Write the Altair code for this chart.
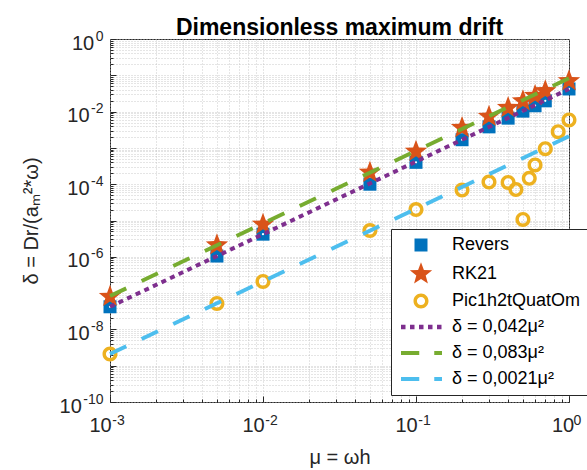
import math
import altair as alt
import pandas as pd

# ---------------- data ----------------
mu_rev = [0.001, 0.005, 0.01, 0.05, 0.1, 0.2, 0.3, 0.4, 0.5, 0.6, 0.7, 1.0]
revers = [4.2e-8, 1.05e-6, 4.2e-6, 1.0e-4, 4.0e-4, 1.68e-3, 3.8e-3, 6.6e-3,
          1.03e-2, 1.45e-2, 1.98e-2, 4.2e-2]
mu_rk = [0.001, 0.005, 0.01, 0.05, 0.1, 0.2, 0.3, 0.4, 0.5, 0.6, 0.7, 1.0]
rk21 = [8.0e-8, 2.1e-6, 7.8e-6, 2.1e-4, 8.0e-4, 3.6e-3, 7.3e-3, 1.28e-2,
        1.95e-2, 2.75e-2, 3.7e-2, 7.0e-2]
mu_pic = [0.001, 0.005, 0.01, 0.05, 0.1, 0.2, 0.3, 0.4, 0.45, 0.5, 0.55,
          0.6, 0.7, 0.85, 1.0]
pic = [2.1e-9, 5.2e-8, 2.1e-7, 5.3e-6, 2.0e-5, 6.9e-5, 1.15e-4, 1.12e-4,
       7.1e-5, 1.07e-5, 1.45e-4, 3.4e-4, 9.5e-4, 2.8e-3, 5.9e-3]

fit_coef = [0.042, 0.083, 0.0021]
fit_labels = ["δ = 0,042μ²", "δ = 0,083μ²", "δ = 0,0021μ²"]
fit_mu = [0.001, 1.0]

series = ["Revers", "RK21", "Pic1h2tQuatOm"] + fit_labels

x_label_vals = [0.001, 0.01, 0.1, 1.0]
x_label_exp = ["-3", "-2", "-1", "0"]
y_label_vals = [1.0, 1e-2, 1e-4, 1e-6, 1e-8, 1e-10]
y_label_exp = ["0", "-2", "-4", "-6", "-8", "-10"]

# ---------------- tables ----------------
pts = pd.concat([
    pd.DataFrame({"mu": mu_rev, "d": revers, "series": "Revers"}),
    pd.DataFrame({"mu": mu_rk, "d": rk21, "series": "RK21"}),
    pd.DataFrame({"mu": mu_pic, "d": pic, "series": "Pic1h2tQuatOm"}),
], ignore_index=True)
rev_df = pd.DataFrame({"mu": mu_rev, "d": revers})

fit_rows = []
for c, lab in zip(fit_coef, fit_labels):
    for m in fit_mu:
        fit_rows.append({"mu": m, "d": c * m * m, "series": lab})
fit_df = pd.DataFrame(fit_rows)

x_grid = [k * 10.0 ** n for n in range(-3, 0) for k in range(1, 10)] + [1.0]
y_grid = [k * 10.0 ** n for n in range(-10, 0) for k in range(1, 10)] + [1.0]


def is_val(v):
    return f"abs(datum.value/{v!r} - 1) < 1e-6"


def label_expr(vals, txts):
    s = ""
    for v, t in zip(vals, txts):
        s += f"{is_val(v)} ? '{t}' : "
    return s + "''"


DECADE = "abs(log(datum.value)/LN10 - round(log(datum.value)/LN10)) < 1e-6"
tick_size = {"condition": {"test": DECADE, "value": 6}, "value": 3}

# ---------------- styles ----------------
W, H = 459, 363
FONT = "Liberation Sans"
INK = "#262626"

# marker outlines as filled paths (unit: 1 = 5 px at size 100)
R = 2.35
star_pts = []
for i in range(10):
    a = -math.pi / 2 + i * math.pi / 5
    r = R if i % 2 == 0 else R * 0.42
    star_pts.append(f"{r * math.cos(a):.3f},{r * math.sin(a):.3f}")
star_path = "M" + "L".join(star_pts) + "Z"
square_path = "M-1.3,-1.3H1.3V1.3H-1.3Z"
ro, ri = 1.5, 0.82
ring_path = (f"M{ro},0A{ro},{ro} 0 1,1 {-ro},0A{ro},{ro} 0 1,1 {ro},0Z"
             f"M{ri},0A{ri},{ri} 0 1,0 {-ri},0A{ri},{ri} 0 1,0 {ri},0Z")
dot_path = "".join(
    f"M{x0:.2f},-0.45H{x0 + 0.9:.2f}V0.45H{x0:.2f}Z"
    for x0 in [-4.0, -2.2, -0.4, 1.4, 3.2]
)
dash_path = "M-4,-0.4H-0.35V0.4H-4ZM2.65,-0.4H4.2V0.4H2.65Z"

shape_range = [square_path, star_path, ring_path, dot_path, dash_path, dash_path]
fill_range = ["#0072BD", "#D95319", "#EDB120", "#7E2F8E", "#77AC30", "#4DBEEE"]

leg = alt.Legend(
    title=None, orient="none", legendX=281, legendY=190,
    fillColor="white", strokeColor=INK, padding=7,
    symbolSize=100, symbolStrokeWidth=0, symbolOffset=14, labelOffset=22,
    labelFont=FONT, labelFontSize=18, labelColor="black", rowPadding=8,
    labelLimit=300,
)

xs = alt.Scale(type="log", domain=[0.001, 1.0], nice=False)
ys = alt.Scale(type="log", domain=[1e-10, 1.0], nice=False)

x_axis = alt.Axis(
    values=x_grid, labelExpr=label_expr(x_label_vals, ["10"] * 4),
    title="μ = ωh", ticks=False, domain=False, labelPadding=13, labelFontSize=20,
    labelOffset={"condition": {"test": is_val(1.0), "value": -6.5}, "value": -10},
    titlePadding=12, grid=True, labelFlush=False, labelOverlap=False, labelBound=False,
)
y_axis = alt.Axis(
    values=y_grid, labelExpr=label_expr(y_label_vals, ["10"] * 6),
    title="δ = Dr/(aₘ²*ω)", ticks=False, domain=False, labelFontSize=20, labelOffset=4,
    labelPadding={"condition": [{"test": is_val(1.0), "value": 16.3},
                                {"test": is_val(1e-10), "value": 28.7}],
                  "value": 20.9},
    titlePadding=18, grid=True, labelFlush=False, labelOverlap=False, labelBound=False,
)

points = alt.Chart(pts).mark_point(size=100, filled=True, strokeWidth=0, opacity=1).encode(
    x=alt.X("mu:Q", scale=xs, axis=x_axis),
    y=alt.Y("d:Q", scale=ys, axis=y_axis),
    shape=alt.Shape("series:N", scale=alt.Scale(domain=series, range=shape_range), legend=leg),
    fill=alt.Fill("series:N", scale=alt.Scale(domain=series, range=fill_range), legend=leg),
)

dots = alt.Chart(rev_df).mark_point(shape="circle", filled=True, size=5, color="white",
                                     strokeWidth=0, opacity=1).encode(x="mu:Q", y="d:Q")

lines = alt.Chart(fit_df).mark_line(strokeWidth=4, strokeCap="butt").encode(
    x="mu:Q", y="d:Q",
    color=alt.Color("series:N", scale=alt.Scale(domain=fit_labels,
                                                range=["#7E2F8E", "#77AC30", "#4DBEEE"]), legend=None),
    strokeDash=alt.StrokeDash("series:N", scale=alt.Scale(domain=fit_labels,
                                                          range=[[5, 4.5], [18, 17], [18, 17]]), legend=None),
)

main = alt.layer(points, dots, lines)

# second axes: inward ticks plus the superscript exponents of the tick labels
tick_layer = alt.Chart(fit_df).mark_point(opacity=0).encode(
    x=alt.X("mu:Q", scale=xs, axis=alt.Axis(
        orient="top", offset=-H, values=x_grid, labelExpr=label_expr(x_label_vals, x_label_exp),
        domain=False, grid=False, ticks=True, tickSize=tick_size, tickColor=INK, title=None,
        labelFontSize=14, labelBaseline="top", labelPadding=-17, labelOffset=8,
        labelAlign="center", labelFlush=False, labelOverlap=False, labelBound=False)),
    y=alt.Y("d:Q", scale=ys, axis=alt.Axis(
        orient="right", offset=-W, values=y_grid, labelExpr=label_expr(y_label_vals, y_label_exp),
        domain=False, grid=False, ticks=True, tickSize=tick_size, tickColor=INK, title=None,
        labelFontSize=14, labelAlign="right", labelPadding=-13, labelOffset=-3,
        labelFlush=False, labelOverlap=False, labelBound=False)),
)

chart = alt.layer(main, tick_layer).resolve_axis(x="independent", y="independent").properties(
    width=W, height=H,
    title=alt.TitleParams("Dimensionless maximum drift", font=FONT, fontSize=23,
                          fontWeight="bold", color="black", anchor="middle", offset=0, dy=11),
    autosize=alt.AutoSizeParams(type="none"),
    padding={"left": 110, "top": 39, "right": 18, "bottom": 68},
).configure_view(stroke=INK, strokeWidth=1).configure_axis(
    labelFont=FONT, labelFontSize=17, labelColor=INK,
    titleFont=FONT, titleFontSize=20, titleFontWeight="normal", titleColor=INK,
    domainColor=INK, gridColor="#bdbdbd", gridDash=[1, 2], gridWidth=0.8,
    gridOpacity=1,
)

chart.save("out.html", embed_options={"renderer": "svg", "actions": False})
